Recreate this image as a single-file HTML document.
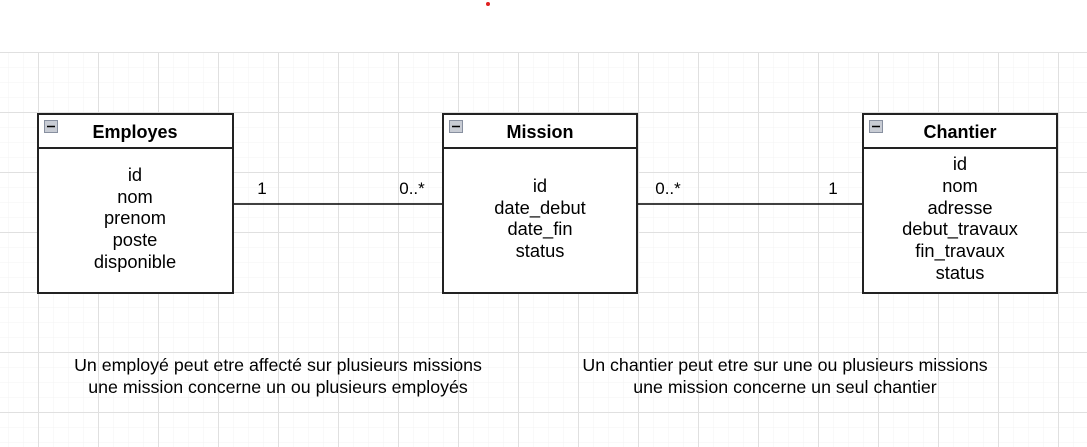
<!DOCTYPE html>
<html><head><meta charset="utf-8"><style>
html,body{margin:0;padding:0;background:#fff;}
svg{display:block;font-family:"Liberation Sans",Arial,sans-serif;}
</style></head><body>
<svg width="1087" height="447" viewBox="0 0 1087 447" xmlns="http://www.w3.org/2000/svg">
<defs>
<pattern id="minor" x="8" y="52" width="15" height="15" patternUnits="userSpaceOnUse">
<path d="M0 0H15M0 0V15" stroke="#f3f3f3" stroke-width="1" fill="none"/>
</pattern>
<pattern id="major" x="38" y="52" width="60" height="60" patternUnits="userSpaceOnUse">
<path d="M0 0.5H60M0.5 0V60" stroke="#e0e0e0" stroke-width="1" fill="none"/>
</pattern>
</defs>
<rect x="0" y="52" width="1087" height="395" fill="url(#minor)"/>
<rect x="0" y="52" width="1087" height="395" fill="url(#major)"/>
<circle cx="488" cy="4" r="2" fill="#e02020"/>

<g stroke="#000" stroke-width="1.5" fill="none">
<line x1="233" y1="204" x2="443" y2="204"/>
<line x1="637" y1="204" x2="863" y2="204"/>
</g>

<g font-size="17" fill="#000">
<text x="262" y="194" text-anchor="middle">1</text>
<text x="412" y="194" text-anchor="middle">0..*</text>
<text x="668" y="194" text-anchor="middle">0..*</text>
<text x="833" y="194" text-anchor="middle">1</text>
</g>

<g stroke="#222" stroke-width="2" fill="#fff">
<rect x="38" y="114" width="195" height="179"/>
<line x1="38" y1="148" x2="233" y2="148"/>
<rect x="443" y="114" width="194" height="179"/>
<line x1="443" y1="148" x2="637" y2="148"/>
<rect x="863" y="114" width="194" height="179"/>
<line x1="863" y1="148" x2="1057" y2="148"/>
</g>
<g fill="#c8ccd4" stroke="#8890a0" stroke-width="1">
<rect x="44.5" y="120.5" width="13" height="12"/>
<rect x="449.5" y="120.5" width="13" height="12"/>
<rect x="869.5" y="120.5" width="13" height="12"/>
</g>
<g stroke="#000" stroke-width="1.5">
<line x1="47" y1="126.5" x2="55" y2="126.5"/>
<line x1="452" y1="126.5" x2="460" y2="126.5"/>
<line x1="872" y1="126.5" x2="880" y2="126.5"/>
</g>

<g font-size="18" font-weight="bold" text-anchor="middle" fill="#000">
<text x="135" y="138">Employes</text>
<text x="540" y="138">Mission</text>
<text x="960" y="138">Chantier</text>
</g>

<g font-size="18.3" text-anchor="middle" fill="#000">
<text x="135" y="181">id</text>
<text x="135" y="203">nom</text>
<text x="135" y="224">prenom</text>
<text x="135" y="246">poste</text>
<text x="135" y="268">disponible</text>

<text x="540" y="192">id</text>
<text x="540" y="214">date_debut</text>
<text x="540" y="235">date_fin</text>
<text x="540" y="257">status</text>

<text x="960" y="170">id</text>
<text x="960" y="192">nom</text>
<text x="960" y="214">adresse</text>
<text x="960" y="235">debut_travaux</text>
<text x="960" y="257">fin_travaux</text>
<text x="960" y="279">status</text>
</g>

<g font-size="17.8" text-anchor="middle" fill="#000">
<text x="278" y="371">Un employé peut etre affecté sur plusieurs missions</text>
<text x="278" y="393">une mission concerne un ou plusieurs employés</text>
<text x="785" y="371">Un chantier peut etre sur une ou plusieurs missions</text>
<text x="785" y="393">une mission concerne un seul chantier</text>
</g>
</svg>
</body></html>
